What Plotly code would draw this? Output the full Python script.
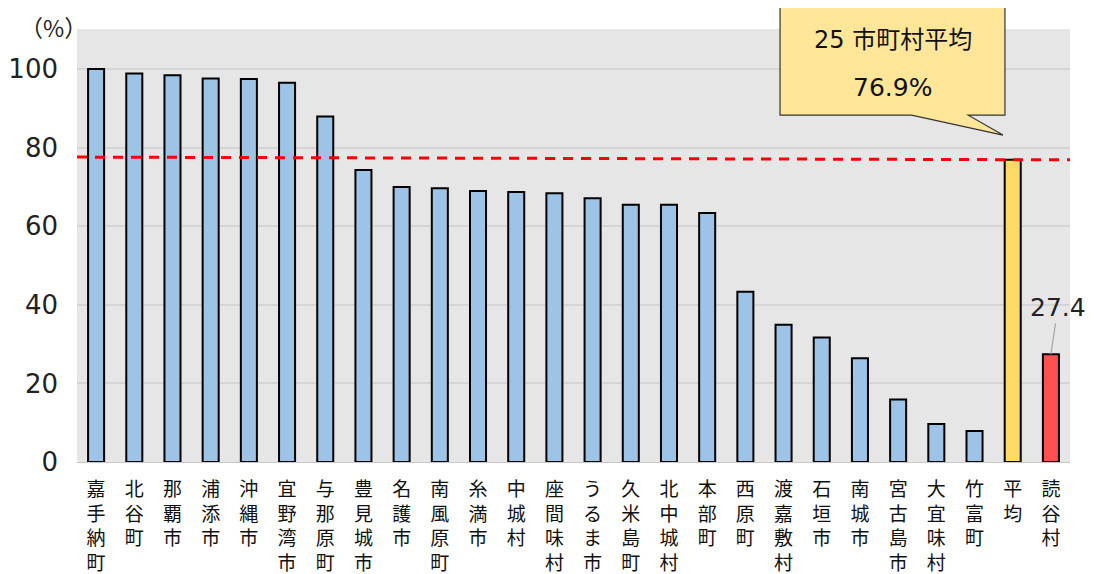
import plotly.graph_objects as go

categories = ["嘉手納町", "北谷町", "那覇市", "浦添市", "沖縄市", "宜野湾市", "与那原町", "豊見城市",
              "名護市", "南風原町", "糸満市", "中城村", "座間味村", "うるま市", "久米島町", "北中城村",
              "本部町", "西原町", "渡嘉敷村", "石垣市", "南城市", "宮古島市", "大宜味村", "竹富町",
              "平均", "読谷村"]
values = [100.0, 98.9, 98.4, 97.6, 97.5, 96.5, 87.9, 74.3,
          70.0, 69.7, 69.0, 68.7, 68.4, 67.1, 65.5, 65.5,
          63.4, 43.3, 34.9, 31.7, 26.4, 15.9, 9.7, 7.9,
          76.9, 27.4]
average = 76.9
highlight = "読谷村"
y_ticks = [0, 20, 40, 60, 80, 100]

BLUE = "#9DC3E6"
YELLOW = "#FFD966"
RED = "#FF5050"
colors = [YELLOW if c == "平均" else RED if c == highlight else BLUE for c in categories]
ticktext = ["<br>".join(list(c)) for c in categories]

CJK = "Noto Sans CJK JP"
NUM = "DejaVu Sans, Noto Sans CJK JP"

fig = go.Figure()
fig.add_trace(go.Bar(
    x=categories, y=values, width=0.42,
    marker=dict(color=colors, line=dict(color="#000000", width=2)),
    hoverinfo="x+y", showlegend=False,
))

# average dashed line
fig.add_shape(type="line", xref="paper", yref="y", x0=0, x1=1, y0=77.6, y1=76.9,
              line=dict(color="#FF0000", width=3, dash="10px,8px"), layer="above")

# callout box
L, R = 0.708, 0.9345
T, B = 1.058, 0.801
t1, t2 = 0.8405, 0.8975
tip_x, tip_y = 0.9325, 0.755
path = (f"M {L},{B} L {t1},{B} L {tip_x},{tip_y} L {t2},{B} L {R},{B} "
        f"L {R},{T} L {L},{T} Z")
fig.add_shape(type="path", xref="paper", yref="paper", path=path,
              fillcolor="#FFE699", line=dict(color="#333333", width=1.2), layer="above")
fig.add_annotation(xref="paper", yref="paper", x=(L + R) / 2, y=0.975,
                   xanchor="center", yanchor="middle",
                   text="25 市町村平均", showarrow=False,
                   font=dict(family=NUM, size=24, color="#111111"))
fig.add_annotation(xref="paper", yref="paper", x=(L + R) / 2, y=0.864,
                   xanchor="center", yanchor="middle",
                   text=f"{average}%", showarrow=False,
                   font=dict(family=NUM, size=25, color="#111111"))

# highlighted value label
hv = values[categories.index(highlight)]
fig.add_annotation(x=highlight, y=hv, text=f"{hv}",
                   showarrow=True, arrowhead=0, arrowwidth=1.2, arrowcolor="#A6A6A6",
                   ax=7, ay=-47, font=dict(family=NUM, size=25, color="#222222"))

# unit label
fig.add_annotation(xref="paper", yref="paper", x=-0.024, y=1.046, text="（%）",
                   showarrow=False, font=dict(family=CJK, size=23, color="#222222"),
                   xanchor="center", yanchor="top", borderpad=0)

fig.update_layout(
    width=1086, height=566,
    margin=dict(l=69, r=24, t=21, b=112),
    paper_bgcolor="#FFFFFF", plot_bgcolor="#E6E6E6",
    font=dict(family=CJK, color="#222222"),
    xaxis=dict(tickmode="array", tickvals=categories, ticktext=ticktext, tickangle=0,
               range=[-0.5, len(categories) - 0.5], autorange=False,
               tickfont=dict(family=CJK, size=19, color="#111111"),
               showgrid=False, showline=True, linecolor="#C8C8C8", linewidth=1,
               ticks="", automargin=False, ticklabelstandoff=10),
    yaxis=dict(range=[0, 110.2], autorange=False, tickvals=y_ticks,
               ticktext=[str(v) for v in y_ticks],
               tickfont=dict(family=NUM, size=26, color="#222222"),
               showgrid=True, gridcolor="#D5D5D5", gridwidth=1.5,
               zeroline=False, ticks="", ticklabelstandoff=18, automargin=False),
)

fig.write_html("out.html")
